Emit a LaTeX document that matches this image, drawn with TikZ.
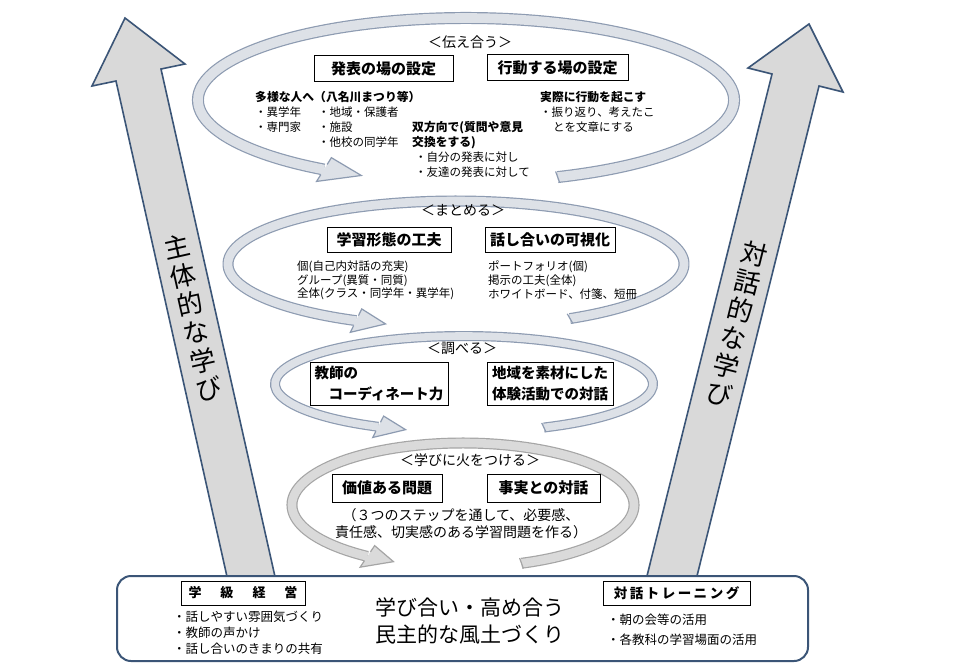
\documentclass[tikz,border=0pt]{standalone}
\usepackage{fontspec}
\setmainfont{Noto Sans CJK JP}
\definecolor{arrowline}{HTML}{3B5577}
\definecolor{arrowfill}{HTML}{D9D9D9}
\definecolor{loopline}{HTML}{8D9BB1}
\definecolor{loopfill}{HTML}{DDE1E7}
\definecolor{looplineB}{HTML}{A5A5A5}
\definecolor{loopfillB}{HTML}{DADADA}
\newcommand\myfs[1]{\fontsize{#1}{#1}\selectfont}
% #1 cx #2 cy #3 rx #4 ry #5 start #6 head base #7 tip #8 line colour #9 fill colour ; \hw band half width, \hh head half width
\newcommand\LoopArrow[9]{%
  \begin{scope}[shift={(#1,#2)}]
    \pgfmathsetmacro\rxo{#3+\hw}\pgfmathsetmacro\ryo{#4+\hw}%
    \pgfmathsetmacro\rxi{#3-\hw}\pgfmathsetmacro\ryi{#4-\hw}%
    \pgfmathsetmacro\rxho{#3+\hh}\pgfmathsetmacro\ryho{#4+\hh}%
    \pgfmathsetmacro\rxhi{#3-\hh}\pgfmathsetmacro\ryhi{#4-\hh}%
    \pgfmathsetmacro\bwo{2*\hw}\pgfmathsetmacro\bwi{2*\hw-2.4}%
    \draw[draw=#8, line width=\bwo pt] (#5:#3 and #4) arc[start angle=#5, end angle=#6, x radius=#3, y radius=#4];
    \draw[draw=#9, line width=\bwi pt] (#5:#3 and #4) arc[start angle=#5, end angle=#6, x radius=#3, y radius=#4];
    \draw[draw=#8, line width=1.2pt] (#5:{\rxo} and {\ryo}) -- (#5:{\rxi} and {\ryi});
    \fill[#9] (#6:{\rxo} and {\ryo}) -- (#6:{\rxho} and {\ryho}) -- (#7:#3 and #4) -- (#6:{\rxhi} and {\ryhi}) -- (#6:{\rxi} and {\ryi}) -- cycle;
    \draw[draw=#8, line width=1.2pt, line join=miter] (#6:{\rxo} and {\ryo}) -- (#6:{\rxho} and {\ryho}) -- (#7:#3 and #4) -- (#6:{\rxhi} and {\ryhi}) -- (#6:{\rxi} and {\ryi});
  \end{scope}}
\begin{document}
\begin{tikzpicture}[x=1pt,y=-1pt,
  bigarrow/.style={draw=arrowline, fill=arrowfill, line width=1.6pt, line join=miter},
  lbl/.style={font=\myfs{14}, inner sep=0pt},
  boxt/.style={draw=black, line width=0.8pt, fill=white, font=\myfs{15}\bfseries, inner sep=0pt, minimum height=26pt},
  small/.style={anchor=west, font=\myfs{11.5}, inner sep=0pt},
  smallb/.style={anchor=west, font=\myfs{11.8}\bfseries, inner sep=0pt},
  smallc/.style={anchor=west, font=\myfs{12.5}, inner sep=0pt},
  vert/.style={font=\fontsize{26}{29}\selectfont, align=center, inner sep=0pt}]
\useasboundingbox (0,0) rectangle (960,665);
\fill[white] (0,0) rectangle (960,665);
% big arrows
\draw[bigarrow] (125,18) -- (185,64) -- (161,69) -- (278,590) -- (230,590) -- (116,81) -- (92,86) -- cycle;
\draw[bigarrow] (809,24) -- (843,92) -- (819,86) -- (693.5,590) -- (643.5,590) -- (772,74) -- (748,68) -- cycle;
\node[vert, rotate=12.7] (leftlbl) at (193,318) {主\\体\\的\\な\\学\\び};
\node[vert, rotate=-14] (rightlbl) at (737,324) {対\\話\\的\\な\\学\\び};
% loops
\def\hw{6}\def\hh{14}
\LoopArrow{466}{100}{268}{82}{70}{-238}{-247}{loopline}{loopfill}
\def\hw{5.5}\def\hh{13}
\LoopArrow{456}{264}{228}{63}{60}{-244}{-252}{loopline}{loopfill}
\def\hw{5}\def\hh{12}
\LoopArrow{464}{384}{189}{48}{65}{-243}{-252}{loopline}{loopfill}
\def\hw{5.5}\def\hh{13}
\LoopArrow{463}{505}{171}{62}{70}{-236}{-246}{looplineB}{loopfillB}
% loop 1 texts
\node[lbl] (t1) at (470,42) {＜伝え合う＞};
\node[boxt, minimum width=139pt] (b1a) at (383.5,68.5) {発表の場の設定};
\node[boxt, minimum width=141pt] (b1b) at (557.5,67.5) {行動する場の設定};
\node[smallb] (s1) at (255,97) {多様な人へ（八名川まつり等）};
\node[small] (s2) at (255,112) {・異学年};
\node[small] (s3) at (255,127) {・専門家};
\node[small] (s4) at (318,112) {・地域・保護者};
\node[small] (s5) at (318,127) {・施設};
\node[small] (s6) at (318,142) {・他校の同学年};
\node[smallb] (s7) at (412,128) {双方向で(質問や意見};
\node[smallb] (s8) at (412,143) {交換をする)};
\node[small] (s9) at (415,157) {・自分の発表に対し};
\node[small] (s10) at (415,172) {・友達の発表に対して};
\node[smallb] (s11) at (540,97) {実際に行動を起こす};
\node[small] (s12) at (540,112) {・振り返り、考えたこ};
\node[small] (s13) at (553,127) {とを文章にする};
% loop 2 texts
\node[lbl] (t2) at (463,210) {＜まとめる＞};
\node[boxt, minimum width=124pt, minimum height=25pt] (b2a) at (389,240) {学習形態の工夫};
\node[boxt, minimum width=130pt, minimum height=25pt] (b2b) at (550,240) {話し合いの可視化};
\node[small] (m1) at (297,267) {個(自己内対話の充実)};
\node[small] (m2) at (297,280.5) {グループ(異質・同質)};
\node[small] (m3) at (297,294) {全体(クラス・同学年・異学年)};
\node[small] (m4) at (488,267) {ポートフォリオ(個)};
\node[small] (m5) at (488,280.5) {掲示の工夫(全体)};
\node[small] (m6) at (488,294) {ホワイトボード、付箋、短冊};
% loop 3 texts
\node[lbl] (t3) at (462,348) {＜調べる＞};
\node[boxt, minimum width=138pt, minimum height=43pt, align=left, font=\fontsize{14.5}{21}\selectfont\bfseries] (b3a) at (379,383.5) {教師の\\\hspace*{14pt}コーディネート力};
\node[boxt, minimum width=126pt, minimum height=43pt, align=left, font=\fontsize{14.5}{21}\selectfont\bfseries] (b3b) at (550,383.5) {地域を素材にした\\体験活動での対話};
% loop 4 texts
\node[lbl] (t4) at (470,460) {＜学びに火をつける＞};
\node[boxt, minimum width=110pt, minimum height=28pt] (b4a) at (387,488) {価値ある問題};
\node[boxt, minimum width=113pt, minimum height=28pt] (b4b) at (543.5,488) {事実との対話};
\node[font=\myfs{14}, inner sep=0pt] (n4a) at (461,515) {（３つのステップを通して、必要感、};
\node[font=\myfs{14}, inner sep=0pt] (n4b) at (461,532) {責任感、切実感のある学習問題を作る）};
% bottom box
\draw[draw=arrowline, line width=2pt, fill=white, rounded corners=14pt] (117,576) rectangle (808,661);
\node[boxt, minimum width=124pt, minimum height=24pt, font=\myfs{13}\bfseries] (g1) at (243,593) {学\hspace{19pt}級\hspace{19pt}経\hspace{19pt}営};
\node[smallc] (g2) at (173,617) {・話しやすい雰囲気づくり};
\node[smallc] (g3) at (173,633) {・教師の声かけ};
\node[smallc] (g4) at (173,649) {・話し合いのきまりの共有};
\node[font=\myfs{21}, inner sep=0pt] (c1) at (470,607) {学び合い・高め合う};
\node[font=\myfs{21}, inner sep=0pt] (c2) at (470,634) {民主的な風土づくり};
\node[boxt, minimum width=147pt, minimum height=24pt, font=\myfs{13.5}\bfseries] (r1) at (676.5,593) {対\hspace{2.5pt}話\hspace{2.5pt}ト\hspace{2.5pt}レ\hspace{2.5pt}ー\hspace{2.5pt}ニ\hspace{2.5pt}ン\hspace{2.5pt}グ};
\node[smallc] (r2) at (607,620) {・朝の会等の活用};
\node[smallc] (r3) at (607,640) {・各教科の学習場面の活用};
\end{tikzpicture}
\end{document}
